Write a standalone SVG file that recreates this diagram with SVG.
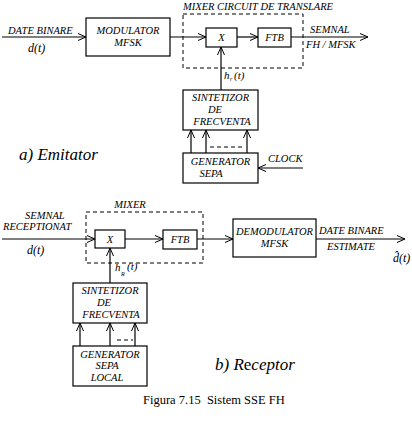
<svg xmlns="http://www.w3.org/2000/svg" width="412" height="422" viewBox="0 0 412 422">
<defs>
<marker id="ah" markerWidth="10" markerHeight="10" refX="9" refY="5" orient="auto" markerUnits="userSpaceOnUse">
<polyline points="1,1.5 9,5 1,8.5" fill="none" stroke="#000" stroke-width="1"/>
</marker>
<style>
.box{fill:#fff;stroke:#000;stroke-width:1.2}
.dash{fill:none;stroke:#000;stroke-width:1;stroke-dasharray:4,3}
.ln{fill:none;stroke:#000;stroke-width:1.2}
.arr{fill:none;stroke:#000;stroke-width:1.2;marker-end:url(#ah)}
.t{font-family:"Liberation Serif",serif;font-style:italic;font-size:10.5px;fill:#000}
.c{text-anchor:middle}
.big{font-family:"Liberation Serif",serif;font-style:italic;font-size:17px;fill:#000}
.cap{font-family:"Liberation Serif",serif;font-size:12.5px;fill:#000;white-space:pre}
</style>
</defs>
<rect width="412" height="422" fill="#fff"/>

<g id="mixer-tx">
<rect class="dash" x="183" y="14" width="120" height="54"/>
<text class="t" x="183" y="10">MIXER CIRCUIT DE TRANSLARE</text>
</g>
<g id="modulator">
<rect class="box" x="86" y="18" width="84" height="38"/>
<text class="t c" x="128" y="34">MODULATOR</text>
<text class="t c" x="128" y="46">MFSK</text>
</g>
<g id="x-tx">
<rect class="box" x="206" y="28" width="31" height="19"/>
<text class="t c" x="221.5" y="41">X</text>
</g>
<g id="ftb-tx">
<rect class="box" x="258" y="28" width="33" height="19"/>
<text class="t c" x="274.5" y="41">FTB</text>
</g>
<g id="synth-tx">
<rect class="box" x="183" y="90" width="75" height="40"/>
<text class="t c" x="220.5" y="101">SINTETIZOR</text>
<text class="t c" x="215" y="113">DE</text>
<text class="t c" x="222" y="125">FRECVENTA</text>
</g>
<g id="gen-tx">
<rect class="box" x="183" y="153" width="75" height="30"/>
<text class="t c" x="220.5" y="165">GENERATOR</text>
<text class="t c" x="211" y="177">SEPA</text>
</g>

<g id="mixer-rx">
<rect class="dash" x="86" y="212" width="117" height="51"/>
<text class="t c" x="130" y="208">MIXER</text>
</g>
<g id="x-rx">
<rect class="box" x="95" y="230" width="30" height="18"/>
<text class="t c" x="110" y="243">X</text>
</g>
<g id="ftb-rx">
<rect class="box" x="163" y="230" width="34" height="19"/>
<text class="t c" x="180" y="243">FTB</text>
</g>
<g id="demod">
<rect class="box" x="233" y="219" width="83" height="38"/>
<text class="t c" x="274.5" y="235">DEMODULATOR</text>
<text class="t c" x="274.5" y="247">MFSK</text>
</g>
<g id="synth-rx">
<rect class="box" x="73" y="283" width="74" height="40"/>
<text class="t c" x="110" y="294">SINTETIZOR</text>
<text class="t c" x="104" y="306">DE</text>
<text class="t c" x="111" y="318">FRECVENTA</text>
</g>
<g id="gen-rx">
<rect class="box" x="73" y="346" width="74" height="40"/>
<text class="t c" x="110" y="358">GENERATOR</text>
<text class="t c" x="107" y="369">SEPA</text>
<text class="t c" x="107" y="381">LOCAL</text>
</g>

<g id="connectors">
<line class="arr" x1="2" y1="37" x2="86" y2="37"/>
<line class="arr" x1="170" y1="37" x2="206" y2="37"/>
<line class="arr" x1="237" y1="37" x2="258" y2="37"/>
<line class="arr" x1="291" y1="37" x2="368" y2="37"/>
<line class="arr" x1="221" y1="90" x2="221" y2="47"/>
<line class="arr" x1="191" y1="153" x2="191" y2="130"/>
<line class="arr" x1="206" y1="153" x2="206" y2="130"/>
<line class="arr" x1="247" y1="153" x2="247" y2="130"/>
<line class="dash" x1="210" y1="147" x2="244" y2="147"/>
<line class="arr" x1="303" y1="168" x2="258" y2="168"/>

<line class="arr" x1="2" y1="239" x2="95" y2="239"/>
<line class="arr" x1="125" y1="239" x2="163" y2="239"/>
<line class="arr" x1="197" y1="239" x2="233" y2="239"/>
<line class="arr" x1="316" y1="239" x2="405" y2="239"/>
<line class="arr" x1="110" y1="283" x2="110" y2="248"/>
<line class="arr" x1="80" y1="346" x2="80" y2="323"/>
<line class="arr" x1="110" y1="346" x2="110" y2="323"/>
<line class="arr" x1="135" y1="346" x2="135" y2="323"/>
<line class="dash" x1="117" y1="340" x2="133" y2="340"/>
</g>

<g id="labels">
<text class="t" x="8" y="34">DATE BINARE</text>
<text class="t" x="28" y="52" style="font-size:12px">d(t)</text>
<text class="t" x="310" y="33">SEMNAL</text>
<text class="t" x="306" y="48">FH / MFSK</text>
<text class="t" x="224" y="79" style="font-size:11px">h</text>
<text class="t" x="230" y="81" style="font-size:6px">r</text>
<text class="t" x="234" y="79" style="font-size:11px">(t)</text>
<text class="t" x="268" y="162">CLOCK</text>
<text class="big" x="19" y="160">a) Emitator</text>

<text class="t" x="25" y="219">SEMNAL</text>
<text class="t" x="3" y="230">RECEPTIONAT</text>
<text class="t" x="27" y="254" style="font-size:12px">d(t)</text>
<text class="t" x="115" y="271" style="font-size:11px">h</text>
<text class="t" x="121" y="276" style="font-size:6px">R</text>
<text class="t" x="127" y="270" style="font-size:11px">(t)</text>
<text class="t" x="319" y="234">DATE BINARE</text>
<text class="t" x="327" y="250">ESTIMATE</text>
<text class="t" x="393" y="262" style="font-size:12px">d&#770;(t)</text>
<text class="big" x="215" y="370">b) R<tspan style="font-style:normal">e</tspan>ceptor</text>
<text class="cap" x="143" y="404" xml:space="preserve">Figura 7.15  Sistem SSE FH</text>
</g>
</svg>
